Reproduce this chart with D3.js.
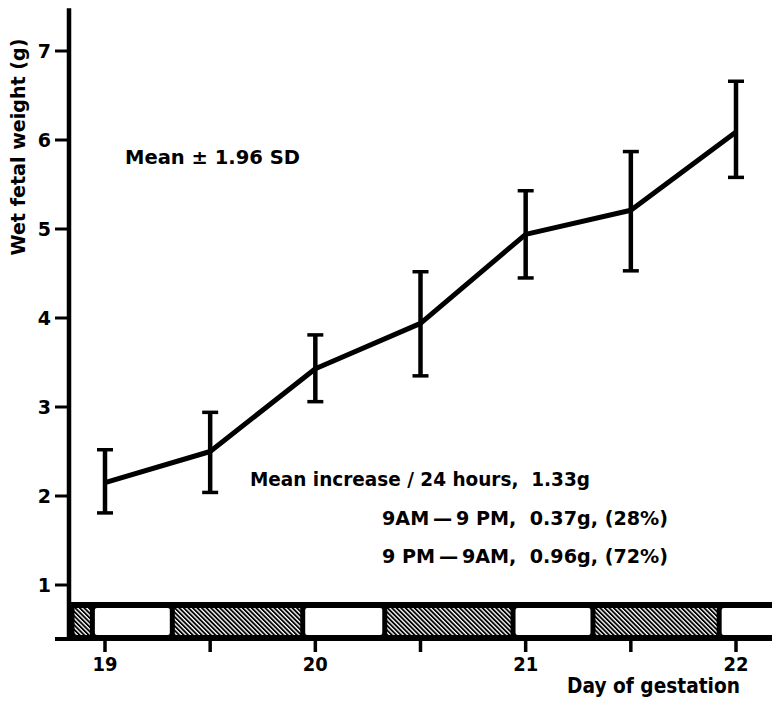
<!DOCTYPE html>
<html>
<head>
<meta charset="utf-8">
<script src="https://cdn.jsdelivr.net/npm/d3@7"></script>
<style>
  body { margin: 0; background: #fff; }
  svg { display: block; }
  text { font-family: "DejaVu Sans", sans-serif; font-weight: bold; fill: #000; }
</style>
</head>
<body>
<div id="graf"></div>
<script>
// dades llegides de la figura
const dies = [19, 19.5, 20, 20.5, 21, 21.5, 22];
const mitjana = [2.15, 2.50, 3.43, 3.94, 4.94, 5.21, 6.09];
const dalt = [2.52, 2.94, 3.81, 4.52, 5.43, 5.87, 6.66];
const baix = [1.81, 2.04, 3.06, 3.35, 4.45, 4.53, 5.58];
const ticsY = [1, 2, 3, 4, 5, 6, 7];
const ticsX = [19, 19.5, 20, 20.5, 21, 21.5, 22];
const etiqX = {19: '19', 20: '20', 21: '21', 22: '22'};
// períodes de llum (dies); la resta és fosc
const llum = [[18.94, 19.32], [19.94, 20.33], [20.94, 21.32], [21.92, 22.4]];
const textos = [
	'Mean increase / 24 hours,  1.33g',
	'9AM\u2009\u2014\u20099 PM,  0.37g, (28%)',
	'9 PM\u2009\u2014\u20099AM,  0.96g, (72%)'
];

const Amplada = 772, Alçada = 706;

const svg = d3.select('#graf').append('svg')
	.attr('width', Amplada)
	.attr('height', Alçada);

const x = d3.scaleLinear().domain([19, 22]).range([105, 736]);
const y = d3.scaleLinear().domain([1, 7]).range([585, 51]);

const eixX = 69;          // posició de l'eix y
const baseY = 639;        // posició de l'eix x
const franjaDalt = 602;   // dalt de la franja llum/fosc

// patró ratllat
const defs = svg.append('defs');
const pat = defs.append('pattern')
	.attr('id', 'ratlles')
	.attr('patternUnits', 'userSpaceOnUse')
	.attr('width', 3.2).attr('height', 3.2)
	.attr('patternTransform', 'rotate(-45)');
pat.append('rect').attr('width', 3.2).attr('height', 3.2).attr('fill', '#fff');
pat.append('line')
	.attr('x1', 0.9).attr('y1', 0).attr('x2', 0.9).attr('y2', 3.2)
	.attr('stroke', '#000').attr('stroke-width', 1.9);

// franja negra de fons
svg.append('rect')
	.attr('x', eixX).attr('y', franjaDalt)
	.attr('width', Amplada - eixX).attr('height', baseY - franjaDalt)
	.attr('fill', '#000');

// segments foscos (ratllats) entre els de llum
const x0 = x.invert(eixX + 3), x1 = x.invert(Amplada + 10);
let foscos = [];
let inici = x0;
llum.forEach(p => { foscos.push([inici, p[0]]); inici = p[1]; });
if (inici < x1) foscos.push([inici, x1]);

const dinsDalt = franjaDalt + 6, dinsBaix = baseY - 4;
svg.selectAll('.fosc').data(foscos).join('rect')
	.attr('class', 'fosc')
	.attr('x', d => x(d[0]) + 2.5)
	.attr('y', dinsDalt)
	.attr('width', d => Math.max(0, x(d[1]) - x(d[0]) - 5))
	.attr('height', dinsBaix - dinsDalt)
	.attr('fill', 'url(#ratlles)');
svg.selectAll('.llum').data(llum).join('rect')
	.attr('class', 'llum')
	.attr('x', d => x(d[0]) + 2.5)
	.attr('y', dinsDalt)
	.attr('width', d => x(d[1]) - x(d[0]) - 5)
	.attr('height', dinsBaix - dinsDalt)
	.attr('rx', 2)
	.attr('fill', '#fff');

// eixos
svg.append('line')
	.attr('x1', eixX).attr('x2', eixX)
	.attr('y1', y(7.48)).attr('y2', baseY + 2)
	.attr('stroke', '#000').attr('stroke-width', 4.5);
svg.append('line')
	.attr('x1', 55).attr('x2', Amplada)
	.attr('y1', baseY).attr('y2', baseY)
	.attr('stroke', '#000').attr('stroke-width', 4);

const gY = svg.append('g');
gY.selectAll('line').data(ticsY).join('line')
	.attr('x1', 55).attr('x2', eixX)
	.attr('y1', d => y(d)).attr('y2', d => y(d))
	.attr('stroke', '#000').attr('stroke-width', 3);
gY.selectAll('text').data(ticsY).join('text')
	.attr('x', 51).attr('y', d => y(d))
	.attr('dy', '0.36em')
	.attr('text-anchor', 'end')
	.attr('font-size', 19)
	.text(d => d);

const gX = svg.append('g');
gX.selectAll('line').data(ticsX).join('line')
	.attr('x1', d => x(d)).attr('x2', d => x(d))
	.attr('y1', baseY).attr('y2', baseY + 13)
	.attr('stroke', '#000').attr('stroke-width', 3.5);
gX.selectAll('text').data(ticsX.filter(d => etiqX[d])).join('text')
	.attr('x', d => x(d)).attr('y', 671)
	.attr('text-anchor', 'middle')
	.attr('font-size', 20)
	.attr('textLength', 25).attr('lengthAdjust', 'spacingAndGlyphs')
	.text(d => etiqX[d]);

svg.append('text')
	.attr('x', 567).attr('y', 693)
	.attr('font-size', 21)
	.attr('textLength', 173).attr('lengthAdjust', 'spacingAndGlyphs')
	.text('Day of gestation');

svg.append('text')
	.attr('transform', 'translate(25,147) rotate(-90)')
	.attr('text-anchor', 'middle')
	.attr('font-size', 20)
	.attr('textLength', 217).attr('lengthAdjust', 'spacingAndGlyphs')
	.text('Wet fetal weight (g)');

// línia de mitjanes
const punts = dies.map((d, i) => [d, mitjana[i]]);
svg.append('path')
	.datum(punts)
	.attr('d', d3.line().x(d => x(d[0])).y(d => y(d[1])))
	.attr('fill', 'none')
	.attr('stroke', '#000').attr('stroke-width', 5)
	.attr('stroke-linejoin', 'round');

// barres d'error
const barres = svg.append('g').attr('stroke', '#000');
dies.forEach((d, i) => {
	const cx = x(d);
	barres.append('line')
		.attr('x1', cx).attr('x2', cx)
		.attr('y1', y(dalt[i])).attr('y2', y(baix[i]))
		.attr('stroke-width', 4.5);
	[dalt[i], baix[i]].forEach(v => {
		barres.append('line')
			.attr('x1', cx - 8).attr('x2', cx + 8)
			.attr('y1', y(v)).attr('y2', y(v))
			.attr('stroke-width', 3.5);
	});
});

// textos
svg.append('text')
	.attr('x', 125).attr('y', 164)
	.attr('font-size', 19)
	.attr('textLength', 175).attr('lengthAdjust', 'spacingAndGlyphs')
	.style('white-space', 'pre')
	.text('Mean \u00B1 1.96 SD');

svg.append('text')
	.attr('x', 250).attr('y', 486)
	.attr('font-size', 19)
	.attr('textLength', 340).attr('lengthAdjust', 'spacingAndGlyphs')
	.style('white-space', 'pre')
	.text(textos[0]);
[1, 2].forEach((k, j) => {
	svg.append('text')
		.attr('x', 382).attr('y', 525 + j * 38)
		.attr('font-size', 19)
		.attr('textLength', 286).attr('lengthAdjust', 'spacingAndGlyphs')
		.style('white-space', 'pre')
		.text(textos[k]);
});
</script>
</body>
</html>
